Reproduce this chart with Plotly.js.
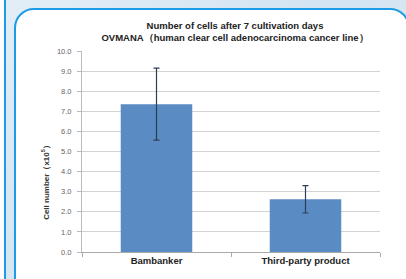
<!DOCTYPE html>
<html>
<head>
<meta charset="utf-8">
<script src="https://cdn.plot.ly/plotly-3.0.1.min.js"></script>
<style>
  html, body { margin: 0; padding: 0; }
  body { width: 406px; height: 279px; overflow: hidden; position: relative;
         background: linear-gradient(135deg, #e3eef7 0%, #d3e4f2 50%, #dfebf6 100%); }
  #leftpanel { position: absolute; left: -198px; top: -20px; width: 200px; height: 330px;
               border: 2px solid #1e9be6; border-radius: 16px; background: #ffffff; }
  #mainpanel { position: absolute; left: 14px; top: 8px; width: 392px; height: 290px;
               border: 2px solid #1e9be6; border-radius: 20px; background: #ffffff; }
  #chart { position: absolute; left: 0; top: 0; width: 406px; height: 279px; }
</style>
</head>
<body>
<div id="leftpanel"></div>
<div id="mainpanel"></div>
<div id="chart"></div>
<script>
const categories = ["Bambanker", "Third-party product"];
const cellNumbers = [7.35, 2.62];
const errorPlus = [1.8, 0.68];
const errorMinus = [1.78, 0.68];
const yTickValues = [0, 1, 2, 3, 4, 5, 6, 7, 8, 9, 10];
const titleLine1 = "Number of cells after 7 cultivation days";
const titleLine2 = "OVMANA（human clear cell adenocarcinoma cancer line）";
const yTitle = "Cell number（x10<sup>5</sup>）";

const trace = {
  type: "bar",
  x: categories,
  y: cellNumbers,
  marker: { color: "#5a8bc3", line: { width: 0 } },
  error_y: {
    type: "data", symmetric: false,
    array: errorPlus, arrayminus: errorMinus,
    color: "#2c3e55", thickness: 1.2, width: 3
  },
  hoverinfo: "none"
};

const layout = {
  width: 406, height: 279,
  margin: { l: 82, r: 26, t: 50.5, b: 26.5 },
  paper_bgcolor: "rgba(0,0,0,0)",
  plot_bgcolor: "rgba(0,0,0,0)",
  showlegend: false,
  bargap: 0.52,
  font: { family: "Liberation Sans, Arial, sans-serif", color: "#333" },
  title: {
    text: "<b>" + titleLine1 + "</b><br><b>" + titleLine2 + "</b>",
    font: { size: 9.5, color: "#222", family: "Liberation Sans, Arial, sans-serif" },
    xref: "container", yref: "container",
    x: 235 / 406, xanchor: "center",
    y: 1 - 29 / 279, yanchor: "middle"
  },
  xaxis: {
    type: "category",
    tickson: "boundaries",
    ticks: "outside", ticklen: 4, tickcolor: "#aaaaaa",
    showline: true, linecolor: "#aaaaaa", linewidth: 1,
    showgrid: false,
    tickfont: { size: 9.5, color: "#222", family: "Liberation Sans, Arial, sans-serif", weight: "bold" },
    fixedrange: true
  },
  yaxis: {
    range: [0, 10],
    tickvals: yTickValues,
    tickformat: ".1f",
    ticks: "outside", ticklen: 4, tickcolor: "#bbbbbb",
    showline: true, linecolor: "#bbbbbb", linewidth: 1,
    showgrid: true, gridcolor: "#d3d3d3", gridwidth: 1,
    zeroline: false,
    tickfont: { size: 7.5, color: "#666", family: "Liberation Sans, Arial, sans-serif" },
    ticklabelstandoff: 4,
    fixedrange: true
  },
  annotations: [{
    text: "<b>" + yTitle + "</b>",
    textangle: -90,
    xref: "paper", yref: "paper",
    x: (45 - 82) / 298, y: (252.5 - 181) / 202,
    xanchor: "center", yanchor: "middle",
    showarrow: false,
    font: { size: 8, color: "#333", family: "Liberation Sans, Arial, sans-serif" }
  }]
};

Plotly.newPlot("chart", [trace], layout, { displayModeBar: false, staticPlot: true });
</script>
</body>
</html>
